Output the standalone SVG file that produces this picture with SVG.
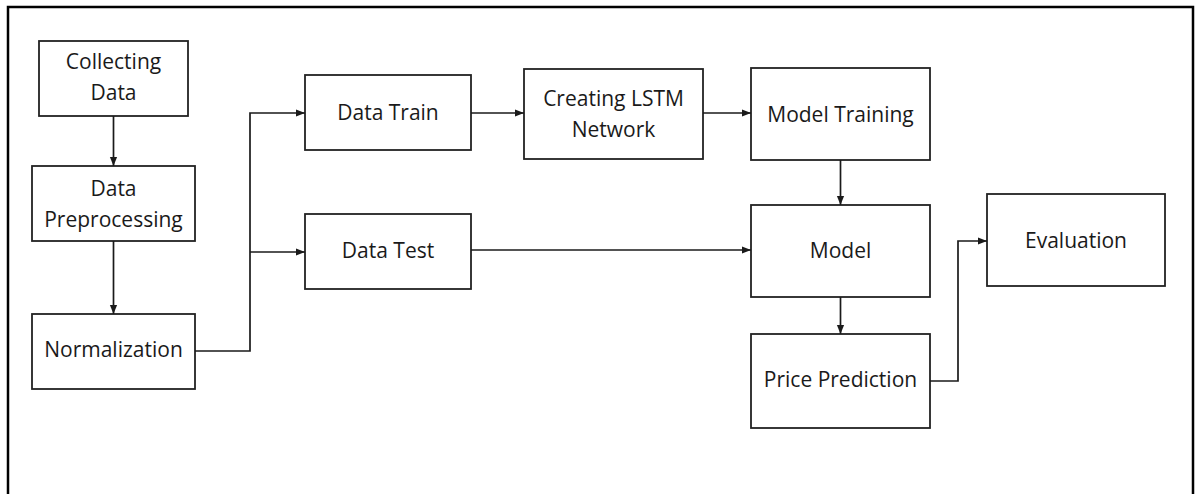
<svg xmlns="http://www.w3.org/2000/svg" width="1195" height="494" viewBox="0 0 1195 494">
<defs>
<style>
.box{fill:#fff;stroke:#222;stroke-width:1.8}
.lbl{font-family:"Open Sans","Liberation Sans",sans-serif;font-size:21px;fill:#1a1a1a;text-anchor:middle}
.con{fill:none;stroke:#1a1a1a;stroke-width:1.7}
</style>
<marker id="arr" viewBox="0 0 10 10" refX="10" refY="5" markerWidth="9" markerHeight="9" markerUnits="userSpaceOnUse" orient="auto">
<path d="M0,1 L10,5 L0,9 Z" fill="#1a1a1a"/>
</marker>
</defs>
<rect x="0" y="0" width="1195" height="494" fill="#fff"/>
<path d="M8,496 L8,7 L1193,7 L1193,496" fill="none" stroke="#000" stroke-width="2.5"/>

<g id="collecting-data"><rect class="box" x="39" y="41" width="149" height="75"/><text class="lbl" x="113.5" y="69">Collecting</text><text class="lbl" x="113.5" y="100">Data</text></g>
<g id="data-preprocessing"><rect class="box" x="32" y="166" width="163" height="75"/><text class="lbl" x="113.5" y="196">Data</text><text class="lbl" x="113.5" y="227">Preprocessing</text></g>
<g id="normalization"><rect class="box" x="32" y="314" width="163" height="75"/><text class="lbl" x="113.5" y="357">Normalization</text></g>
<g id="data-train"><rect class="box" x="305" y="75" width="166" height="75"/><text class="lbl" x="388" y="120">Data Train</text></g>
<g id="data-test"><rect class="box" x="305" y="214" width="166" height="75"/><text class="lbl" x="388" y="258">Data Test</text></g>
<g id="creating-lstm"><rect class="box" x="524" y="69" width="179" height="90"/><text class="lbl" x="613.5" y="106">Creating LSTM</text><text class="lbl" x="613.5" y="137">Network</text></g>
<g id="model-training"><rect class="box" x="751" y="68" width="179" height="92"/><text class="lbl" x="840.5" y="122">Model Training</text></g>
<g id="model"><rect class="box" x="751" y="205" width="179" height="92"/><text class="lbl" x="840.5" y="258">Model</text></g>
<g id="price-prediction"><rect class="box" x="751" y="334" width="179" height="94"/><text class="lbl" x="840.5" y="387">Price Prediction</text></g>
<g id="evaluation"><rect class="box" x="987" y="194" width="178" height="92"/><text class="lbl" x="1076" y="248">Evaluation</text></g>

<g id="connectors">
<path class="con" d="M113.5,116 L113.5,166" marker-end="url(#arr)"/>
<path class="con" d="M113.5,241 L113.5,314" marker-end="url(#arr)"/>
<path class="con" d="M195,351 L250,351 L250,113 L305,113" marker-end="url(#arr)"/>
<path class="con" d="M250,252 L305,252" marker-end="url(#arr)"/>
<path class="con" d="M471,113 L524,113" marker-end="url(#arr)"/>
<path class="con" d="M703,113 L751,113" marker-end="url(#arr)"/>
<path class="con" d="M840.5,160 L840.5,205" marker-end="url(#arr)"/>
<path class="con" d="M471,250 L751,250" marker-end="url(#arr)"/>
<path class="con" d="M840.5,297 L840.5,334" marker-end="url(#arr)"/>
<path class="con" d="M930,381 L958,381 L958,241 L987,241" marker-end="url(#arr)"/>
</g>
</svg>
